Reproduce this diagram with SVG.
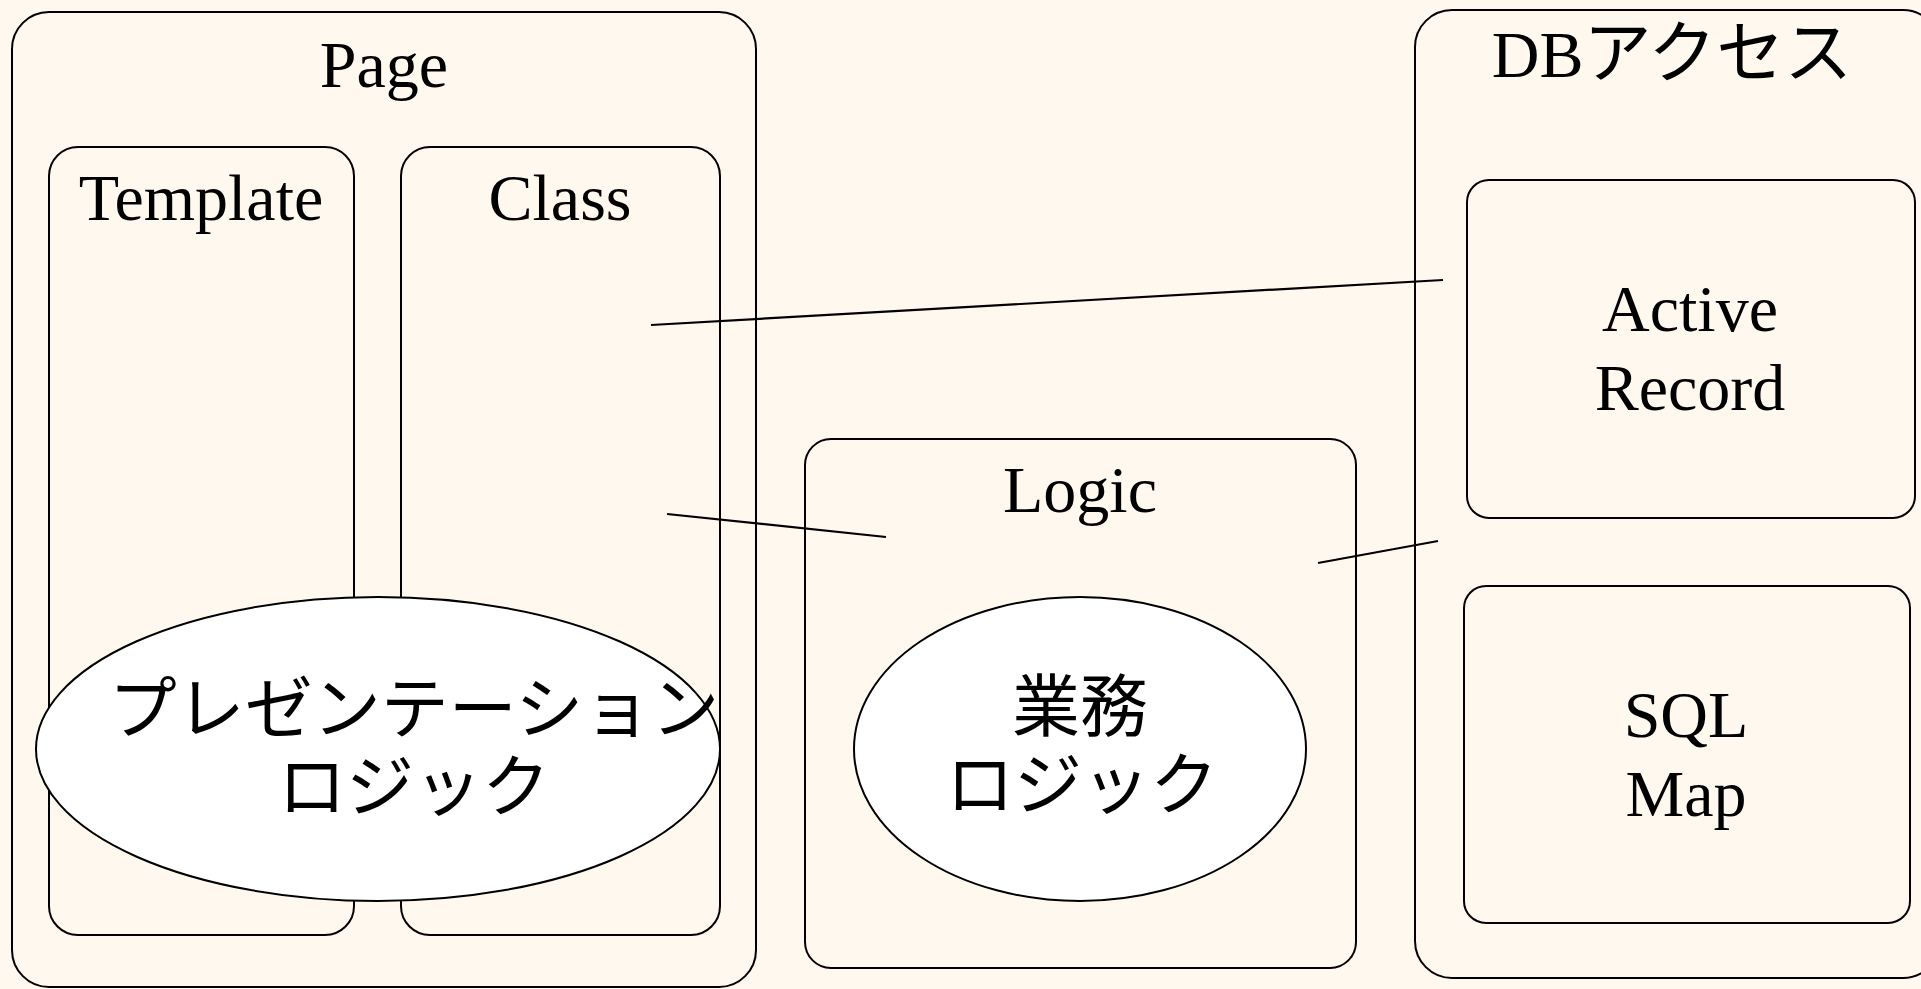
<svg xmlns="http://www.w3.org/2000/svg" width="1921" height="989" viewBox="0 0 1921 989">
<style>
.box{fill:#FFF8EE;stroke:#000;stroke-width:2}
.ell{fill:#FFFFFF;stroke:#000;stroke-width:2}
.t{font-family:"Liberation Serif","Noto Sans CJK JP",serif;font-size:66px;fill:#000;text-anchor:middle}
.j{font-family:"Noto Sans CJK JP","Liberation Sans",sans-serif;font-size:68px;fill:#000;text-anchor:middle}
.c{stroke:#000;stroke-width:2.2;fill:none}
</style>
<rect x="0" y="0" width="1921" height="989" fill="#FFF8EE"/>
<g id="page">
<rect class="box" x="12" y="12" width="744" height="975" rx="37"/>
<text class="t" x="384" y="87">Page</text>
</g>
<g id="template">
<rect class="box" x="49" y="147" width="305" height="788" rx="29"/>
<text class="t" x="201" y="220">Template</text>
</g>
<g id="class">
<rect class="box" x="401" y="147" width="319" height="788" rx="29"/>
<text class="t" x="560" y="220">Class</text>
</g>
<g id="presentation-logic">
<ellipse class="ell" cx="378" cy="749" rx="342" ry="152"/>
<text class="j" x="414" y="733">プレゼンテーション</text>
<text class="j" x="414" y="811">ロジック</text>
</g>
<g id="logic">
<rect class="box" x="805" y="439" width="551" height="529" rx="26"/>
<text class="t" x="1080" y="512">Logic</text>
</g>
<g id="business-logic">
<ellipse class="ell" cx="1080" cy="749" rx="226" ry="152"/>
<text class="j" x="1080" y="731">業務</text>
<text class="j" x="1082" y="809">ロジック</text>
</g>
<g id="db-access">
<rect class="box" x="1415" y="10" width="525" height="968" rx="37"/>
<text class="t" x="1672" y="77">DB<tspan font-size="68">アクセス</tspan></text>
</g>
<g id="active-record">
<rect class="box" x="1467" y="180" width="448" height="338" rx="22"/>
<text class="t" x="1690" y="331">Active</text>
<text class="t" x="1690" y="410">Record</text>
</g>
<g id="sql-map">
<rect class="box" x="1464" y="586" width="446" height="337" rx="22"/>
<text class="t" x="1686" y="737">SQL</text>
<text class="t" x="1686" y="816">Map</text>
</g>
<g id="connectors">
<line class="c" x1="651" y1="325" x2="1443" y2="280"/>
<line class="c" x1="667" y1="514" x2="886" y2="537"/>
<line class="c" x1="1318" y1="563" x2="1438" y2="541"/>
</g>
</svg>
